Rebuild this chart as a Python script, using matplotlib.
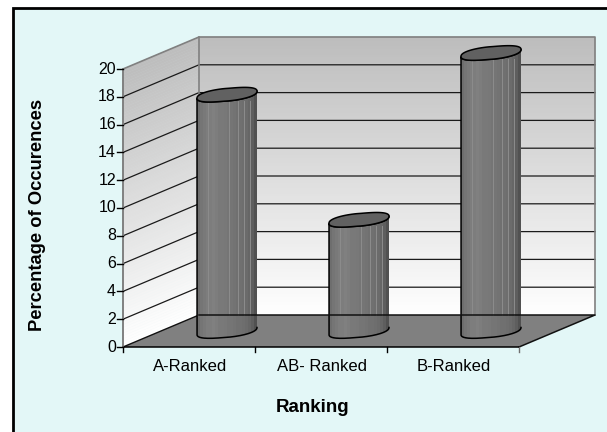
import numpy as np
import matplotlib
matplotlib.use('Agg')
import matplotlib.pyplot as plt
from matplotlib.patches import Polygon, Rectangle

plt.rcParams['font.family'] = ['Liberation Sans', 'DejaVu Sans']

# data
categories = ['A-Ranked', 'AB- Ranked', 'B-Ranked']
values = [17, 8, 20]
y_ticks = list(range(0, 21, 2))
x_label = 'Ranking'
y_label = 'Percentage of Occurences'

# pixel geometry of the fake 3d box
x0, y0 = 123, 347
cat_w = 132
px_per_unit = 13.9
dx, dy = 76, -32
ymax = 20


def front(cat, val):
    return x0 + cat * cat_w, y0 - val * px_per_unit


def depth(cat, val, d):
    x, y = front(cat, val)
    return x + d * dx, y + d * dy


def wall_color(val):
    g = 1.0 - (val / ymax) * 0.26
    return (g, g, g)


fig = plt.figure(figsize=(6.07, 4.32), dpi=100)
ax = fig.add_axes([0, 0, 1, 1])
ax.set_xlim(0, 607)
ax.set_ylim(432, 0)
ax.axis('off')

# outer panel
ax.add_patch(Rectangle((13, 8), 600, 430, fc='#e3f7f7', ec='black', lw=2.0, zorder=0))

ncat = len(categories)

# walls, gradient made from thin strips
steps = np.linspace(0, ymax, 101)
for a, b in zip(steps[:-1], steps[1:]):
    c = wall_color((a + b) / 2)
    ax.add_patch(Polygon([front(0, a), depth(0, a, 1), depth(0, b, 1), front(0, b)],
                         fc=c, ec=c, lw=0.3, zorder=1))
    ax.add_patch(Polygon([depth(0, a, 1), depth(ncat, a, 1), depth(ncat, b, 1), depth(0, b, 1)],
                         fc=c, ec=c, lw=0.3, zorder=1))

# gridlines
for v in y_ticks[1:-1]:
    xs, ys = zip(front(0, v), depth(0, v, 1), depth(ncat, v, 1))
    ax.plot(xs, ys, color='#1a1a1a', lw=0.9, zorder=2)

# wall edges
for pts in ([front(0, 0), front(0, ymax), depth(0, ymax, 1), depth(ncat, ymax, 1), depth(ncat, 0, 1)],
            [depth(0, 0, 1), depth(0, ymax, 1)]):
    xs, ys = zip(*pts)
    ax.plot(xs, ys, color='#808080', lw=1.2, zorder=2)

# floor
ax.add_patch(Polygon([front(0, 0), front(ncat, 0), depth(ncat, 0, 1), depth(0, 0, 1)],
                     fc='#808080', ec='none', zorder=2))

# cylinders, outline is a squarish sheared ellipse
half_w = 30
shear = 3.5
half_h = 6.3
power = 0.85
t = np.linspace(0, 2 * np.pi, 181)
cos_t = np.sign(np.cos(t)) * np.abs(np.cos(t)) ** power
sin_t = np.sign(np.sin(t)) * np.abs(np.sin(t)) ** power
levels = np.array([0.43, 0.46, 0.48, 0.49, 0.49, 0.50, 0.49, 0.48, 0.48, 0.47, 0.46, 0.46,
                   0.45, 0.44, 0.44, 0.43, 0.42, 0.40, 0.37, 0.32])
light = [3, 10, 13, 15, 17]
for i, val in enumerate(values):
    cx, cy = depth(i + 0.5, 0, 0.5)
    top = cy - val * px_per_unit
    ex = cx + half_w * cos_t
    ey = -shear * np.cos(t) - half_h * sin_t
    # front half of the ellipse, right point over the bottom to the left point
    k = (np.sin(t) <= 0)
    order = np.argsort(-np.cos(t[k]))
    fx, fy = ex[k][order], ey[k][order]
    body_x = np.concatenate([fx, fx[::-1]])
    body_y = np.concatenate([top + fy, cy + fy[::-1]])
    img = levels[None, :].copy()
    im = ax.imshow(img, cmap='gray', vmin=0, vmax=1, aspect='auto', interpolation='nearest',
                   extent=(cx - half_w, cx + half_w, 432, 0), zorder=3)
    clip = Polygon(np.column_stack([body_x, body_y]), transform=ax.transData)
    im.set_clip_path(clip)
    for j in light:
        lx = cx - half_w + (j + 0.5) * 2 * half_w / len(levels)
        ax.plot([lx, lx], [top + half_h, depth(0, 0, 1)[1]], color='#8c8c8c', lw=0.7, zorder=3.2)
    ax.plot(body_x, body_y, color='black', lw=1.1, zorder=3.4)
    ax.add_patch(Polygon(np.column_stack([ex, top + ey]), fc='#616161', ec='black', lw=1.1, zorder=3.5))

# floor edges
xs, ys = zip(depth(0, 0, 1), depth(ncat, 0, 1), front(ncat, 0))
ax.plot(xs, ys, color='#111111', lw=1.1, zorder=4)
xs, ys = zip(front(0, 0), depth(0, 0, 1))
ax.plot(xs, ys, color='#111111', lw=1.0, zorder=2.5)

# axes
ax.plot([x0, x0 + ncat * cat_w], [y0, y0], color='black', lw=1.1, zorder=4)
ax.plot([x0, x0], [y0, y0 - ymax * px_per_unit], color='#808080', lw=1.2, zorder=4)
for v in y_ticks:
    x, y = front(0, v)
    ax.plot([x - 6, x], [y, y], color='black', lw=1.0, zorder=4)
    ax.text(x - 7, y, str(v), ha='right', va='center', fontsize=11.5, color='black')
for i in range(ncat + 1):
    x, y = front(i, 0)
    ax.plot([x, x], [y, y + 5], color='black' if i < ncat else '#707070', lw=1.0, zorder=4)
for i, name in enumerate(categories):
    x, y = front(i + 0.5, 0)
    ax.text(x + 1, 366.5, name, ha='center', va='center', fontsize=12, color='black')

ax.text(313, 407.5, x_label, ha='center', va='center', fontsize=13.5, fontweight='bold')
ax.text(38, 215, y_label, ha='center', va='center', rotation=90, fontsize=13.2, fontweight='bold')

fig.savefig('out.png', dpi=100)
